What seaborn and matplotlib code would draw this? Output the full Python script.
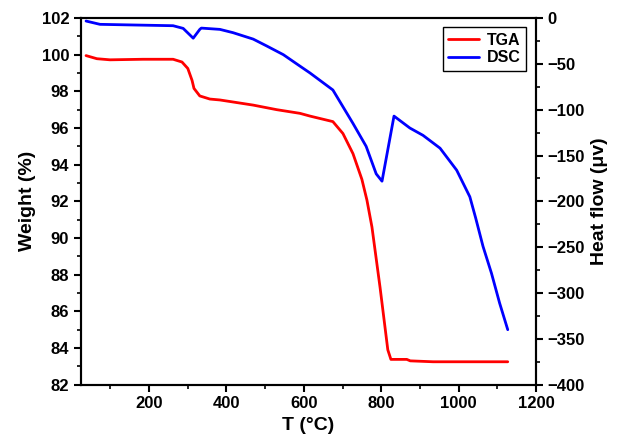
import matplotlib
matplotlib.use("Agg")
import matplotlib.pyplot as plt
import seaborn as sns
import pandas as pd
from matplotlib.ticker import MultipleLocator

# TGA data (T in °C, weight %)
tga_t = [37, 65, 99, 184, 262, 285, 300, 311, 316, 331, 357, 383, 469, 530, 590, 616,
         675, 701, 727, 750, 763, 776, 797, 817, 825, 866, 875, 934, 1127]
tga_w = [99.95, 99.78, 99.72, 99.75, 99.75, 99.6, 99.25, 98.6, 98.16, 97.75, 97.58, 97.53,
         97.25, 97.0, 96.8, 96.65, 96.35, 95.7, 94.6, 93.2, 92.07, 90.6, 87.3, 83.9, 83.38,
         83.38, 83.3, 83.25, 83.25]

# DSC data (T in °C, heat flow µv)
dsc_t = [37, 73, 159, 262, 288, 314, 331, 335, 383, 417, 469, 504, 547, 590, 616, 675,
         727, 761, 787, 802, 833, 874, 908, 952, 995, 1029, 1044, 1063, 1085, 1106, 1127]
dsc_h = [-3.3, -6.9, -7.6, -8.4, -11.3, -22, -12.4, -11, -12.4, -16, -23, -30.5, -40, -52.5,
         -60, -78.5, -115, -140, -170, -178, -107, -120, -128, -142, -166, -195, -218, -249,
         -278.5, -311, -340]

sns.set_style("ticks")
plt.rcParams['font.family'] = ['Liberation Sans', 'DejaVu Sans']
plt.rcParams['font.weight'] = 'bold'
plt.rcParams['axes.labelweight'] = 'bold'
plt.rcParams['text.color'] = 'black'
plt.rcParams['axes.labelcolor'] = 'black'
plt.rcParams['xtick.color'] = 'black'
plt.rcParams['ytick.color'] = 'black'

fig = plt.figure(figsize=(6.17, 4.47), dpi=100)
ax = fig.add_axes([0.1313, 0.1394, 0.7374, 0.8203])
ax2 = ax.twinx()

tga = pd.DataFrame({"T": tga_t, "W": tga_w})
dsc = pd.DataFrame({"T": dsc_t, "H": dsc_h})

sns.lineplot(data=tga, x="T", y="W", ax=ax, color="#ff0000", lw=2, label="TGA", legend=False)
sns.lineplot(data=dsc, x="T", y="H", ax=ax2, color="#0000ff", lw=2, label="DSC", legend=False)

ax.set_xlim(24, 1200)
ax.set_ylim(82, 102)
ax2.set_ylim(-400, 0)

ax.xaxis.set_major_locator(MultipleLocator(200))
ax.xaxis.set_minor_locator(MultipleLocator(100))
ax.yaxis.set_major_locator(MultipleLocator(2))
ax.yaxis.set_minor_locator(MultipleLocator(1))
ax2.yaxis.set_major_locator(MultipleLocator(50))
ax2.yaxis.set_minor_locator(MultipleLocator(25))

for a in (ax, ax2):
    for s in a.spines.values():
        s.set_linewidth(1.5)
        s.set_color("black")
    a.tick_params(which="major", direction="out", length=5, width=1.5, labelsize=12,
                  colors="black", labelcolor="black")
    a.tick_params(which="minor", direction="out", length=3, width=1.2, colors="black")
    for lab in a.get_xticklabels() + a.get_yticklabels():
        lab.set_fontweight("bold")

ax.set_xlabel("T (°C)", fontsize=14, fontweight="bold", color="black")
ax.set_ylabel("Weight (%)", fontsize=14, fontweight="bold", color="black")
ax2.set_ylabel("Heat flow (μv)", fontsize=14, fontweight="bold", color="black")

h1, l1 = ax.get_legend_handles_labels()
h2, l2 = ax2.get_legend_handles_labels()
leg = ax2.legend(h1 + h2, l1 + l2, loc="upper right", bbox_to_anchor=(0.978, 0.975),
                 borderaxespad=0, fancybox=False, framealpha=1, edgecolor="black",
                 prop={"weight": "bold", "size": 11.5}, handlelength=1.9, handletextpad=0.5,
                 borderpad=0.35, labelspacing=0.15)
leg.get_frame().set_linewidth(1.0)
for t in leg.get_texts():
    t.set_color("black")

fig.savefig("out.png", dpi=100)
